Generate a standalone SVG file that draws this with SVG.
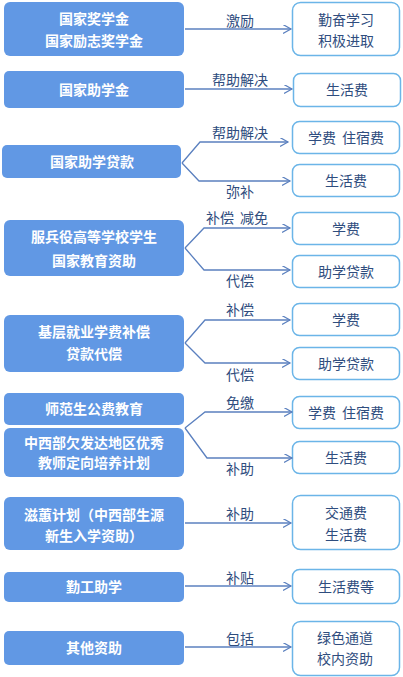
<svg xmlns="http://www.w3.org/2000/svg" width="403" height="677" viewBox="0 0 403 677">
<defs>
<style>
.l{fill:#6198e4;}
.lt{fill:#fff;font-family:"Noto Sans CJK SC","Liberation Sans",sans-serif;font-size:14px;font-weight:bold;text-anchor:middle;}
.r{fill:#fff;stroke:#6bb5e8;stroke-width:1.5;}
.rt{fill:#2f4d7e;font-family:"Noto Sans CJK SC","Liberation Sans",sans-serif;font-size:14px;text-anchor:middle;}
.c{fill:none;stroke:#5b80bf;stroke-width:1.3;}
.ct{fill:#2f4d7e;font-family:"Noto Sans CJK SC","Liberation Sans",sans-serif;font-size:14px;text-anchor:middle;}
</style>
<marker id="ah" markerWidth="10" markerHeight="10" refX="8" refY="4.5" orient="auto" markerUnits="userSpaceOnUse">
<path d="M0,0 L8,4.5 L0,9" fill="none" stroke="#5b80bf" stroke-width="1.2"/>
</marker>
</defs>
<rect width="403" height="677" fill="#fff"/>

<g id="n1"><rect class="l" x="4" y="2" width="180" height="54" rx="6"/><text class="lt" x="94" y="24">国家奖学金</text><text class="lt" x="94" y="46">国家励志奖学金</text></g>
<g id="r1"><rect class="r" x="292.5" y="2.5" width="107" height="53" rx="8"/><text class="rt" x="346" y="25">勤奋学习</text><text class="rt" x="346" y="46">积极进取</text></g>

<g id="n2"><rect class="l" x="4" y="71" width="180" height="37" rx="5"/><text class="lt" x="94" y="95">国家助学金</text></g>
<g id="r2"><rect class="r" x="293.5" y="73.5" width="107" height="33" rx="7"/><text class="rt" x="347" y="95">生活费</text></g>

<g id="n3"><rect class="l" x="2" y="145" width="179" height="33" rx="5"/><text class="lt" x="92" y="167">国家助学贷款</text></g>
<g id="r3a"><rect class="r" x="292.5" y="121.5" width="107" height="32" rx="7"/><text class="rt" x="346" y="143">学费<tspan dx="6">住宿费</tspan></text></g>
<g id="r3b"><rect class="r" x="292.5" y="164.5" width="107" height="32" rx="7"/><text class="rt" x="346" y="186">生活费</text></g>

<g id="n4"><rect class="l" x="4" y="220" width="180" height="56" rx="6"/><text class="lt" x="94" y="242">服兵役高等学校学生</text><text class="lt" x="94" y="266">国家教育资助</text></g>
<g id="r4a"><rect class="r" x="292.5" y="212.5" width="107" height="32" rx="7"/><text class="rt" x="346" y="234">学费</text></g>
<g id="r4b"><rect class="r" x="292.5" y="255.5" width="107" height="32" rx="7"/><text class="rt" x="346" y="277">助学贷款</text></g>

<g id="n5"><rect class="l" x="4" y="315" width="180" height="57" rx="6"/><text class="lt" x="94" y="337">基层就业学费补偿</text><text class="lt" x="94" y="359">贷款代偿</text></g>
<g id="r5a"><rect class="r" x="292.5" y="303.5" width="107" height="32" rx="7"/><text class="rt" x="346" y="325">学费</text></g>
<g id="r5b"><rect class="r" x="292.5" y="347.5" width="107" height="32" rx="7"/><text class="rt" x="346" y="369">助学贷款</text></g>

<g id="n6a"><rect class="l" x="4" y="393" width="180" height="32" rx="5"/><text class="lt" x="94" y="414">师范生公费教育</text></g>
<g id="n6b"><rect class="l" x="4" y="428" width="180" height="49" rx="6"/><text class="lt" x="94" y="448">中西部欠发达地区优秀</text><text class="lt" x="94" y="468">教师定向培养计划</text></g>
<g id="r6a"><rect class="r" x="292.5" y="396.5" width="107" height="32" rx="7"/><text class="rt" x="346" y="418">学费<tspan dx="6">住宿费</tspan></text></g>
<g id="r6b"><rect class="r" x="292.5" y="441.5" width="107" height="32" rx="7"/><text class="rt" x="346" y="463">生活费</text></g>

<g id="n7"><rect class="l" x="4" y="497" width="180" height="53" rx="6"/><text class="lt" x="94" y="520">滋蕙计划（中西部生源</text><text class="lt" x="94" y="541">新生入学资助）</text></g>
<g id="r7"><rect class="r" x="292.5" y="495.5" width="107" height="54" rx="8"/><text class="rt" x="346" y="518">交通费</text><text class="rt" x="346" y="540">生活费</text></g>

<g id="n8"><rect class="l" x="4" y="572" width="180" height="30" rx="5"/><text class="lt" x="94" y="592">勤工助学</text></g>
<g id="r8"><rect class="r" x="292.5" y="569.5" width="107" height="34" rx="7"/><text class="rt" x="346" y="592">生活费等</text></g>

<g id="n9"><rect class="l" x="4" y="631" width="180" height="34" rx="5"/><text class="lt" x="94" y="653">其他资助</text></g>
<g id="r9"><rect class="r" x="292.5" y="621.5" width="107" height="54" rx="8"/><text class="rt" x="345" y="643">绿色通道</text><text class="rt" x="345" y="664">校内资助</text></g>

<g id="connectors">
<path class="c" d="M185,29 H291" marker-end="url(#ah)"/>
<text class="ct" x="240" y="26">激励</text>
<path class="c" d="M185,89 H292" marker-end="url(#ah)"/>
<text class="ct" x="240" y="85">帮助解决</text>
<path class="c" d="M182,163 L200,142 H288" marker-end="url(#ah)"/>
<path class="c" d="M182,163 L199,181 H290" marker-end="url(#ah)"/>
<text class="ct" x="240" y="138">帮助解决</text>
<text class="ct" x="240" y="197">弥补</text>
<path class="c" d="M185,248 L204,228 H290" marker-end="url(#ah)"/>
<path class="c" d="M185,248 L204,270 H290" marker-end="url(#ah)"/>
<text class="ct" x="237" y="223">补偿<tspan dx="6">减免</tspan></text>
<text class="ct" x="240" y="286">代偿</text>
<path class="c" d="M185,343 L205,320 H290" marker-end="url(#ah)"/>
<path class="c" d="M185,343 L205,363 H290" marker-end="url(#ah)"/>
<text class="ct" x="240" y="315">补偿</text>
<text class="ct" x="240" y="380">代偿</text>
<path class="c" d="M185,428 L205,412 H292" marker-end="url(#ah)"/>
<path class="c" d="M185,428 L207,458 H292" marker-end="url(#ah)"/>
<text class="ct" x="240" y="408">免缴</text>
<text class="ct" x="240" y="474">补助</text>
<path class="c" d="M185,523 H291" marker-end="url(#ah)"/>
<text class="ct" x="240" y="519">补助</text>
<path class="c" d="M185,586 H291" marker-end="url(#ah)"/>
<text class="ct" x="240" y="583">补贴</text>
<path class="c" d="M185,647 H291" marker-end="url(#ah)"/>
<text class="ct" x="240" y="644">包括</text>
</g>
</svg>
